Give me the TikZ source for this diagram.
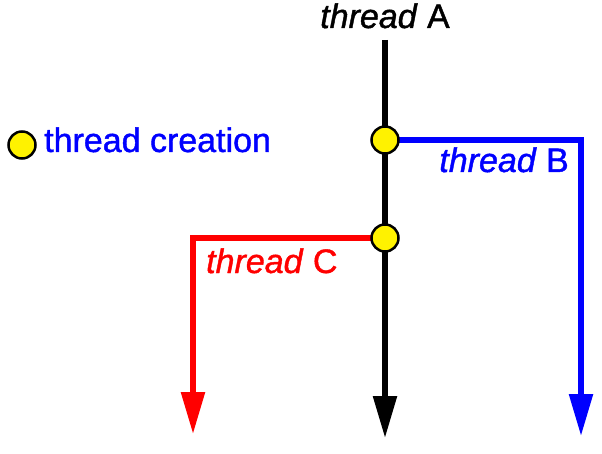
\documentclass[tikz,border=0pt]{standalone}
\usepackage{fontspec}
\setmainfont{Liberation Sans}
\newfontfamily\threadfont{Liberation Sans}[FakeBold=1.2]
\usetikzlibrary{arrows.meta}
\tikzset{
  fork/.style={circle, draw=black, fill=yellow, line width=2.5pt, minimum size=27pt, inner sep=0pt},
  thr/.style={line width=5.5pt, -{Triangle[length=42pt, width=23pt]}},
  lbl/.style={font=\threadfont\fontsize{34}{38}\selectfont, inner sep=0pt}
}
\begin{document}
\begin{tikzpicture}[x=1pt, y=-1pt]
  \useasboundingbox (0,0) rectangle (602,454);
  % legend
  \node[fork] (key) at (22,145) {};
  \node[lbl, blue, anchor=base west] (keytext) at (44,152) {thread creation};
  % thread A with its two forks
  \node[lbl, anchor=base] (nameA) at (385,28) {\textit{thread} A};
  \coordinate (topA) at (385,40);
  \coordinate (endA) at (385,438);
  \coordinate (forkB) at (385,140);
  \coordinate (forkC) at (385,238);
  \coordinate (turnB) at (581,140);
  \coordinate (endB) at (581,436);
  \coordinate (turnC) at (193,238);
  \coordinate (endC) at (193,434);
  \draw[thr, black] (topA) -- (endA);
  \draw[thr, blue, line join=miter] (forkB) -- (turnB) -- (endB);
  \draw[thr, red, line join=miter] (forkC) -- (turnC) -- (endC);
  \node[fork] (dotB) at (forkB) {};
  \node[fork] (dotC) at (forkC) {};
  \node[lbl, blue, anchor=base east] (nameB) at (569,172) {\textit{thread} B};
  \node[lbl, red, anchor=base west] (nameC) at (206,273) {\textit{thread} C};
\end{tikzpicture}
\end{document}
